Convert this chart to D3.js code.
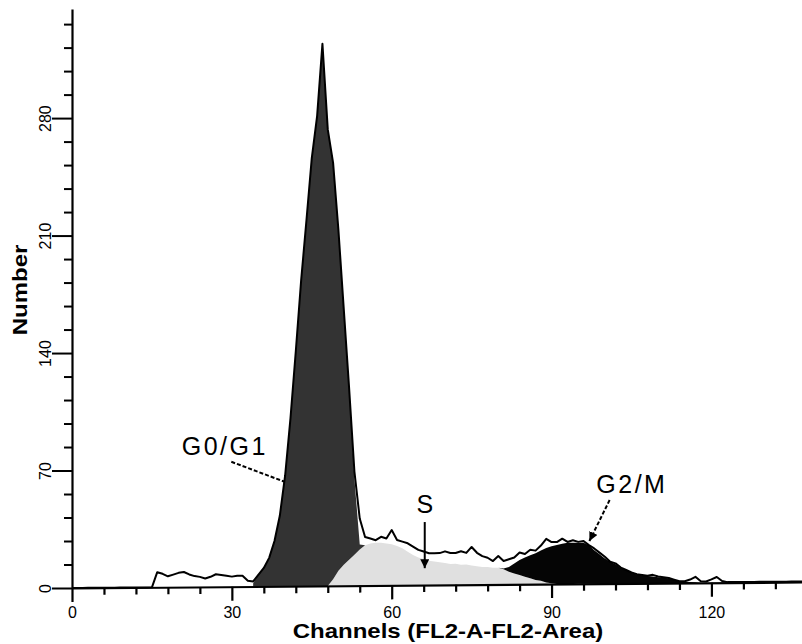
<!DOCTYPE html>
<html><head><meta charset="utf-8">
<script src="https://cdn.jsdelivr.net/npm/d3@7"></script>
<style>
body{margin:0;background:#fff}
svg{display:block}
text{font-family:"Liberation Sans",Arial,sans-serif;fill:#000}
</style>
</head><body>
<svg id="chart" width="802" height="644"></svg>
<script>
// ---------------- DATA ----------------
// DNA histogram counts per channel (channel 0..137)
const histogram = [
  0,0,0,0,0,0,0,0,0,0,0,0,0,0,0,0,
  9,8,6.5,7.5,8.5,9,7.5,6.5,6,5,6,7.5,7,6.5,6,6.5,6.5,3.5,3,
  7,11,17,27,42,66,100,140,182,218,255,280,323,272,252,212,165,118,68,40,
  29,28,27,29,28,33,27,26,25,23,21,20,19,19,19,20,19,19,20,19,22.5,19,17,16,14,
  17,14,15,16,19,18,20.5,20,23,27,25,25,27,25,26,25,25.5,23,21,18.5,16,13,12,9.5,
  8,6.5,5.5,5,4.5,5,4,3.5,3,2,1,1,2,3.6,1,0.8,2,3.4,1,0.3,
  0.3,0.3,0.3,0.3,0.3,0.3,0.3,0.3,0.3,0.3,0.3,0.3,0.3,0.3
];
// Fitted components
const sPhaseStart = 48;
const sPhase = [0,4,9,12.5,15.5,18.5,21.5,24,25,25.5,25.5,25,24.5,23.5,22,20,18,16.5,15.5,14.5,
  14,13.5,13,12.5,12.5,12,12,11.5,11,10.5,10.5,10,10,9,7.5,6.5,5.5,4.5,3.5,2.5,2,1,0.5,0];
const g0g1Start = 34;
const g0g1 = [2,7,11,17,27,42,66,100,140,182,218,255,280,323,272,248,203,152.5,102.5,45,3,0];
const g2mStart = 80;
const g2m = [0,0.5,2.9,6,9,11.5,13.7,16,18,20.5,22,23.3,24,24.5,24.5,24.5,24.5,23,20,17.5,
  15,13,11.5,9.3,7.8,6.3,5.3,4.8,4.3,4,3.6,3.3,2.8,1.8,0.9,0.7,0.5,0.3,0];

const xTickLabels = [0, 30, 60, 90, 120];
const yTickLabels = [0, 70, 140, 210, 280];
const xMinorStep = 6, yMinorStep = 14;

const annLabels = ["G0/G1", "S", "G2/M"];
const annAt = [[20.6, 79], [66.2, 44.6], [98.4, 56.5]];
const g1Leader = [[29.9, 75.2], [39.9, 63.3]];
const sArrow = [[66.2, 39.3], [66.2, 11.8]];
const g2Leader = [[100.9, 52.4], [97.1, 28.0]];

// ---------------- CHART ----------------
const svg = d3.select("#chart");
const x = d3.scaleLinear().domain([0, 137]).range([72, 802]);
const y = d3.scaleLinear().domain([0, 345]).range([588, 9]);

const channels = d3.range(histogram.length);
const sOf = c => (c >= sPhaseStart && c < sPhaseStart + sPhase.length) ? sPhase[c - sPhaseStart] : 0;

// slight scan tilt of the baseline
const k = 6 / 730;
const skewDeg = -Math.atan(k) * 180 / Math.PI;
const plot = svg.append("g").attr("transform", `translate(0,${k * x(0)}) skewY(${skewDeg})`);

const sData = sPhase.map((v, i) => ({c: sPhaseStart + i, lo: 0, hi: v}));
const g1Data = g0g1.map((v, i) => ({c: g0g1Start + i, lo: sOf(g0g1Start + i), hi: sOf(g0g1Start + i) + v}));
const g2Data = g2m.map((v, i) => ({c: g2mStart + i, lo: sOf(g2mStart + i), hi: sOf(g2mStart + i) + v}));
const area = d3.area().x(d => x(d.c)).y0(d => y(d.lo)).y1(d => y(d.hi));

plot.append("path").datum(sData).attr("d", area).attr("fill", "#e0e0e0");
plot.append("path").datum(g1Data).attr("d", area).attr("fill", "#333333");
plot.append("path").datum(g2Data).attr("d", area).attr("fill", "#050505");

plot.append("path").datum(channels)
  .attr("d", d3.line().x(c => x(c)).y(c => y(histogram[c])))
  .attr("fill", "none").attr("stroke", "#000").attr("stroke-width", 2).attr("stroke-linejoin", "round");

// x axis lines (tilted with data)
const xMinor = d3.range(0, 137, xMinorStep);
const xAxisG = plot.append("g").attr("transform", `translate(0,${y(0)})`)
  .call(d3.axisBottom(x).tickValues(xMinor).tickSize(7).tickSizeOuter(0).tickFormat(""));
xAxisG.select(".domain").attr("stroke-width", 2.2);
xAxisG.selectAll(".tick line").attr("stroke-width", 2.2).attr("y2", d => xTickLabels.includes(d) ? 14 : 7);

// x tick labels
const xLab = svg.append("g").attr("transform", `translate(0,${y(0)})`)
  .call(d3.axisBottom(x).tickValues(xTickLabels).tickSize(0).tickPadding(19));
xLab.select(".domain").remove();
xLab.selectAll("text").attr("font-size", 16).attr("font-family", "Liberation Sans");

// y axis
const yMinor = d3.range(0, 345, yMinorStep);
const yAxisG = svg.append("g").attr("transform", `translate(${x(0)},0)`)
  .call(d3.axisLeft(y).tickValues(yMinor).tickSize(8).tickSizeOuter(0)
    .tickFormat(d => yTickLabels.includes(d) ? d : ""));
yAxisG.select(".domain").attr("stroke-width", 2.2);
yAxisG.selectAll(".tick line").attr("stroke-width", 2).attr("x2", d => yTickLabels.includes(d) ? -20 : -8);
yAxisG.selectAll(".tick text")
  .attr("transform", "rotate(-90)").attr("x", 0).attr("y", -21).attr("dy", 0)
  .attr("text-anchor", "middle").attr("font-size", 16).attr("font-family", "Liberation Sans");

// axis titles
svg.append("text").attr("transform", `translate(448,638) scale(1.2,1)`)
  .attr("text-anchor", "middle").attr("font-size", 20).attr("font-weight", "bold")
  .text("Channels (FL2-A-FL2-Area)");
svg.append("text").attr("transform", `translate(27,290) rotate(-90) scale(1.2,1)`)
  .attr("text-anchor", "middle").attr("font-size", 20).attr("font-weight", "bold")
  .text("Number");

// annotations
const defs = svg.append("defs");
defs.append("marker").attr("id", "arr").attr("viewBox", "0 0 10 10")
  .attr("refX", 10).attr("refY", 5).attr("markerWidth", 9).attr("markerHeight", 9)
  .attr("markerUnits", "userSpaceOnUse").attr("orient", "auto")
  .append("path").attr("d", "M0,0L10,5L0,10Z").attr("fill", "#000");

annLabels.forEach((t, i) => {
  svg.append("text").attr("x", x(annAt[i][0])).attr("y", y(annAt[i][1]))
    .attr("text-anchor", i === 1 ? "middle" : "start")
    .attr("font-size", 25).attr("letter-spacing", i === 1 ? 0 : 2.5).text(t);
});
const ln = d3.line().x(d => x(d[0])).y(d => y(d[1]));
svg.append("path").attr("d", ln(g1Leader)).attr("stroke", "#000").attr("stroke-width", 2)
  .attr("stroke-dasharray", "4,2").attr("fill", "none");
svg.append("path").attr("d", ln(sArrow)).attr("stroke", "#000").attr("stroke-width", 2)
  .attr("fill", "none").attr("marker-end", "url(#arr)");
svg.append("path").attr("d", ln(g2Leader)).attr("stroke", "#000").attr("stroke-width", 2)
  .attr("stroke-dasharray", "4,2").attr("fill", "none").attr("marker-end", "url(#arr)");
</script>
</body></html>
